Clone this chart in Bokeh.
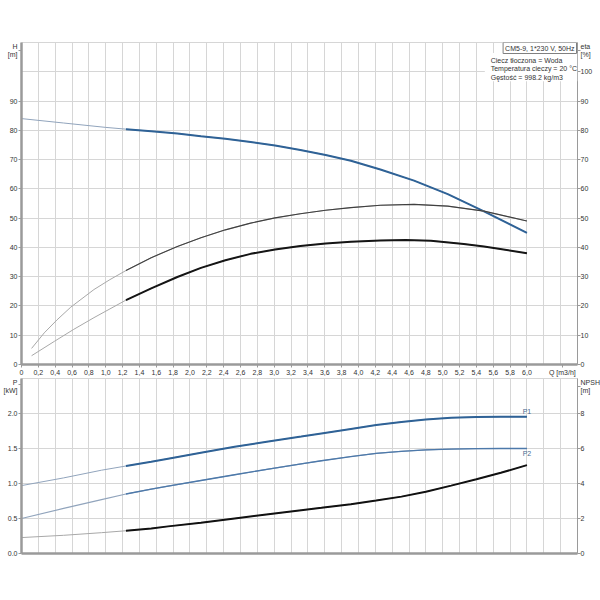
from bokeh.plotting import figure
from bokeh.models import (LinearAxis, Range1d, FixedTicker, Label, BoxAnnotation)
from bokeh.layouts import column
from bokeh.embed import file_html
from bokeh.resources import INLINE

# ---------------- data ----------------
Q_TICKS = [0.0, 0.2, 0.4, 0.6, 0.8, 1.0, 1.2, 1.4, 1.6, 1.8, 2.0, 2.2, 2.4, 2.6, 2.8, 3.0,
           3.2, 3.4, 3.6, 3.8, 4.0, 4.2, 4.4, 4.6, 4.8, 5.0, 5.2, 5.4, 5.6, 5.8, 6.0]
Q_TICK_LABELS = ["0", "0,2", "0,4", "0,6", "0,8", "1,0", "1,2", "1,4", "1,6", "1,8", "2,0",
                 "2,2", "2,4", "2,6", "2,8", "3,0", "3,2", "3,4", "3,6", "3,8", "4,0", "4,2",
                 "4,4", "4,6", "4,8", "5,0", "5,2", "5,4", "5,6", "5,8", "6,0"]
Q_GRID = Q_TICKS + [6.2, 6.4, 6.6]
H_TICKS = [0, 10, 20, 30, 40, 50, 60, 70, 80, 90]
H_GRID = [0, 10, 20, 30, 40, 50, 60, 70, 80, 90, 100, 110]
ETA_TICKS = [0, 10, 20, 30, 40, 50, 60, 70, 80, 90, 100]
P_TICKS = [0.0, 0.5, 1.0, 1.5, 2.0]
P_GRID = [0.0, 0.5, 1.0, 1.5, 2.0, 2.5]
NPSH_TICKS = [0, 2, 4, 6, 8]

# axis titles (text, position along its axis)
Q_TITLE = ("Q [m3/h]", 6.42)
H_TITLE = ("H\n[m]", 107.2)
ETA_TITLE = ("eta\n[%]", 107.2)
P_TITLE = ("P\n[kW]", 2.42)
NPSH_TITLE = ("NPSH\n[m]", 9.53)

# head curve H [m]
Q_H = [0.0, 0.5, 1.0, 1.24, 1.54, 1.85, 2.13, 2.42, 2.72, 3.01, 3.31, 3.61, 3.91, 4.26,
       4.66, 5.06, 5.49, 6.0]
H = [84.0, 82.5, 81.0, 80.4, 79.7, 78.9, 78.0, 77.1, 76.0, 74.8, 73.3, 71.6, 69.6, 66.6,
     62.8, 58.2, 52.3, 45.0]

# efficiency curves eta [%]
Q_E1 = [0.12, 0.27, 0.42, 0.585, 0.86, 1.05, 1.24, 1.54, 1.85, 2.13, 2.42, 2.72, 3.01,
        3.31, 3.61, 3.91, 4.26, 4.66, 5.06, 5.49, 6.0]
ETA1 = [5.5, 10.8, 15.2, 19.6, 25.6, 29.0, 32.1, 36.5, 40.3, 43.3, 46.0, 48.3, 50.1,
        51.5, 52.7, 53.6, 54.4, 54.7, 54.1, 52.4, 49.0]
Q_E2 = [0.12, 0.39, 0.62, 0.86, 1.05, 1.24, 1.54, 1.85, 2.13, 2.42, 2.72, 3.01, 3.31,
        3.61, 3.91, 4.26, 4.56, 4.86, 5.25, 5.49, 6.0]
ETA2 = [3.0, 7.9, 12.0, 16.0, 19.0, 22.0, 26.0, 29.9, 33.0, 35.6, 37.8, 39.3, 40.5,
        41.3, 41.9, 42.4, 42.5, 42.3, 41.2, 40.3, 38.0]

# power and NPSH curves
Q_P = [0.0, 0.5, 0.95, 1.24, 1.54, 1.74, 2.13, 2.53, 2.93, 3.32, 3.56, 3.91, 4.21, 4.51,
       4.8, 5.1, 5.4, 5.69, 6.0]
P1 = [0.97, 1.08, 1.19, 1.25, 1.31, 1.355, 1.44, 1.525, 1.60, 1.67, 1.715, 1.78, 1.835,
      1.88, 1.915, 1.94, 1.95, 1.953, 1.953]
P2 = [0.50, 0.645, 0.77, 0.85, 0.92, 0.962, 1.043, 1.125, 1.205, 1.28, 1.325, 1.385, 1.43,
      1.46, 1.48, 1.492, 1.498, 1.50, 1.50]
NPSH = [0.91, 1.04, 1.19, 1.30, 1.43, 1.55, 1.76, 2.0, 2.24, 2.47, 2.61, 2.82, 3.03, 3.25,
        3.53, 3.88, 4.24, 4.61, 5.05]

Q_START = 1.24  # start of the bold (operating) part of each curve

FONT = "Liberation Sans"
FS = "7px"
AX = "#9a9a9a"
GRID = "#d6d6d6"
BLUE = "#2f6296"
BLUE2 = "#4d79aa"
THIN_BLUE = "#91a4bc"
THIN_GRAY = "#a8a8a8"


def part(xs, ys, start):
    xx = [x for x in xs if x >= start]
    yy = [y for x, y in zip(xs, ys) if x >= start]
    return xx, yy


def style_axis(ax, w, standoff=1):
    ax.axis_line_color = AX
    ax.axis_line_width = w
    ax.major_tick_line_color = AX
    ax.major_tick_in = 0
    ax.major_tick_out = 3
    ax.minor_tick_line_color = None
    ax.major_label_text_font = FONT
    ax.major_label_text_font_size = FS
    ax.major_label_text_color = "#333333"
    ax.major_label_standoff = standoff


def set_ticks(ax, ticks, labels, title=None):
    t = list(ticks)
    labs = list(labels)
    if title is not None:
        t.append(title[1])
        labs.append(title[0])
    ax.ticker = FixedTicker(ticks=t)
    ax.major_label_overrides = dict(zip(t, labs))


def txt(p, x, y, s, align="left", base="middle", xo=0, color="#333333", **kw):
    p.add_layout(Label(x=x, y=y, text=s, x_offset=xo, text_align=align,
                       text_baseline=base, text_font=FONT, text_font_size=FS,
                       text_color=color, **kw))


common = dict(output_backend="svg", toolbar_location=None, frame_width=556,
              min_border_left=19, min_border_right=25,
              background_fill_color="white", border_fill_color="white")

# ---------------- top chart: H and eta ----------------
p1 = figure(frame_height=322, x_range=Range1d(0, 6.6), y_range=Range1d(0, 110),
            min_border_top=42, min_border_bottom=0, **common)
p1.outline_line_color = GRID
set_ticks(p1.xaxis[0], Q_TICKS, Q_TICK_LABELS, Q_TITLE)
set_ticks(p1.yaxis[0], H_TICKS, [str(v) for v in H_TICKS], H_TITLE)
style_axis(p1.xaxis[0], 2.5)
style_axis(p1.yaxis[0], 2.5)
ra = LinearAxis()
set_ticks(ra, ETA_TICKS, [str(v) for v in ETA_TICKS], ETA_TITLE)
style_axis(ra, 1, standoff=0)
p1.add_layout(ra, "right")
p1.xgrid.ticker = FixedTicker(ticks=Q_GRID)
p1.ygrid.ticker = FixedTicker(ticks=H_GRID)
for g in (p1.xgrid, p1.ygrid):
    g.grid_line_color = GRID

p1.line(Q_H, H, line_color=THIN_BLUE, line_width=1)
p1.line(*part(Q_H, H, Q_START), line_color=BLUE, line_width=2)
p1.line(Q_E1, ETA1, line_color=THIN_GRAY, line_width=1)
p1.line(*part(Q_E1, ETA1, Q_START), line_color="#404040", line_width=1.1)
p1.line(Q_E2, ETA2, line_color=THIN_GRAY, line_width=1)
p1.line(*part(Q_E2, ETA2, Q_START), line_color="#151515", line_width=2)

p1.add_layout(BoxAnnotation(left=5.5, right=6.6, bottom=96.8, top=106.4,
                            fill_color="white", fill_alpha=1, line_color=None))
txt(p1, 6.6, 110, "CM5-9, 1*230 V, 50Hz", align="right", base="top", xo=-1,
    border_line_color="#808080", background_fill_color="white", padding=2)
txt(p1, 5.57, 104.0, "Ciecz tłoczona = Woda")
txt(p1, 5.57, 101.1, "Temperatura cieczy = 20 °C")
txt(p1, 5.57, 98.2, "Gęstość = 998.2 kg/m3")

# ---------------- bottom chart: P and NPSH ----------------
p2 = figure(frame_height=175, x_range=Range1d(0, 6.6), y_range=Range1d(0, 2.5),
            min_border_top=0, min_border_bottom=10, **common)
p2.extra_y_ranges = {"npsh": Range1d(0, 10)}
p2.outline_line_color = GRID
p2.xaxis.ticker = FixedTicker(ticks=Q_TICKS)
style_axis(p2.xaxis[0], 2.5)
p2.xaxis.major_label_text_color = None
p2.xaxis.major_tick_out = 0
set_ticks(p2.yaxis[0], P_TICKS, ["%.1f" % v for v in P_TICKS], P_TITLE)
style_axis(p2.yaxis[0], 2.5)
ra2 = LinearAxis(y_range_name="npsh")
set_ticks(ra2, NPSH_TICKS, [str(v) for v in NPSH_TICKS], NPSH_TITLE)
style_axis(ra2, 1, standoff=0)
p2.add_layout(ra2, "right")
p2.xgrid.ticker = FixedTicker(ticks=Q_GRID)
p2.ygrid.ticker = FixedTicker(ticks=P_GRID)
for g in (p2.xgrid, p2.ygrid):
    g.grid_line_color = GRID

p2.line(Q_P, P1, line_color=THIN_BLUE, line_width=1)
p2.line(*part(Q_P, P1, Q_START), line_color=BLUE, line_width=2)
p2.line(Q_P, P2, line_color=THIN_BLUE, line_width=1.1)
p2.line(*part(Q_P, P2, Q_START), line_color=BLUE2, line_width=1.3)
p2.line(Q_P, NPSH, line_color=THIN_GRAY, line_width=1, y_range_name="npsh")
p2.line(*part(Q_P, NPSH, Q_START), line_color="#111111", line_width=2, y_range_name="npsh")

txt(p2, 6.0, 1.975, "P1", align="center", base="bottom", color="#4a6a90")
txt(p2, 6.0, 1.475, "P2", align="center", base="top", color="#4a6a90")

layout = column(p1, p2, spacing=0)
open("out.html", "w").write(file_html(layout, INLINE))
